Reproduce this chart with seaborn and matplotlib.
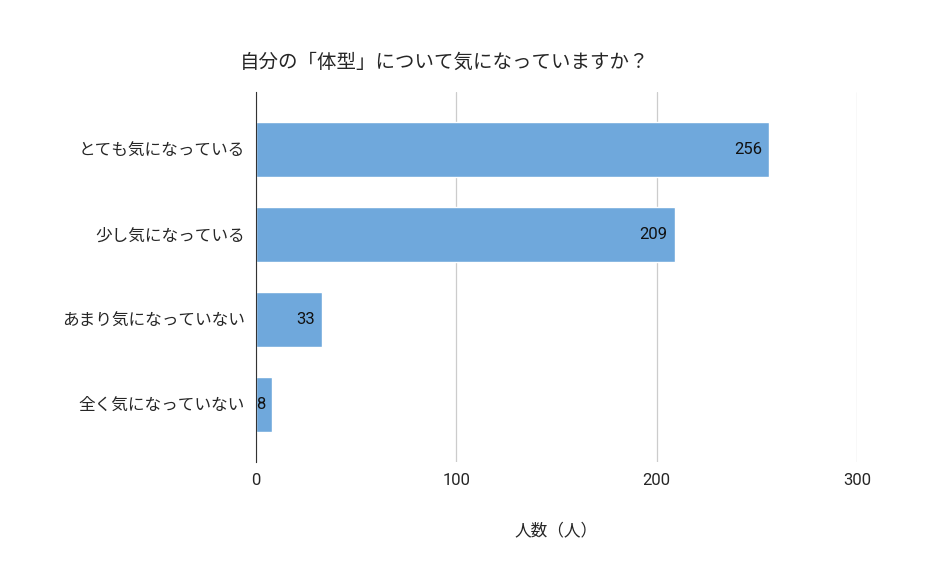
import matplotlib.pyplot as plt
import seaborn as sns
import pandas as pd

answers = ['とても気になっている', '少し気になっている', 'あまり気になっていない', '全く気になっていない']
counts = [256, 209, 33, 8]
x_ticks = [0, 100, 200, 300]

sns.set_style('white')
plt.rcParams['font.family'] = ['Roboto', 'Noto Sans CJK JP', 'DejaVu Sans']

df = pd.DataFrame({'answer': answers, 'count': counts})

fig = plt.figure(figsize=(9.3, 5.7), dpi=100)
ax = fig.add_axes([0.2753, 0.1895, 0.6462, 0.649])
sns.barplot(data=df, y='answer', x='count', color='#6fa8dc', saturation=1,
            width=0.65, ax=ax)

for i, v in enumerate(counts):
    ax.annotate(str(v), (v, i), xytext=(-5, 0), textcoords='offset points',
                ha='right', va='center', fontsize=12, color='#111111')

ax.set_xlim(0, 300)
ax.set_ylim(3.68, -0.68)
ax.set_xticks(x_ticks)
ax.grid(axis='x', color='#cccccc', linewidth=0.9)
ax.set_axisbelow(True)
for s in ['top', 'right', 'bottom']:
    ax.spines[s].set_visible(False)
ax.spines['left'].set_color('#333333')
ax.tick_params(axis='both', length=0, labelsize=12, pad=8)
ax.set_ylabel('')
ax.set_xlabel('人数（人）', fontsize=12, labelpad=25)
fig.text(0.478, 0.89, '自分の「体型」について気になっていますか？', ha='center', va='center',
         fontsize=14)

fig.savefig('out.png', dpi=100)
